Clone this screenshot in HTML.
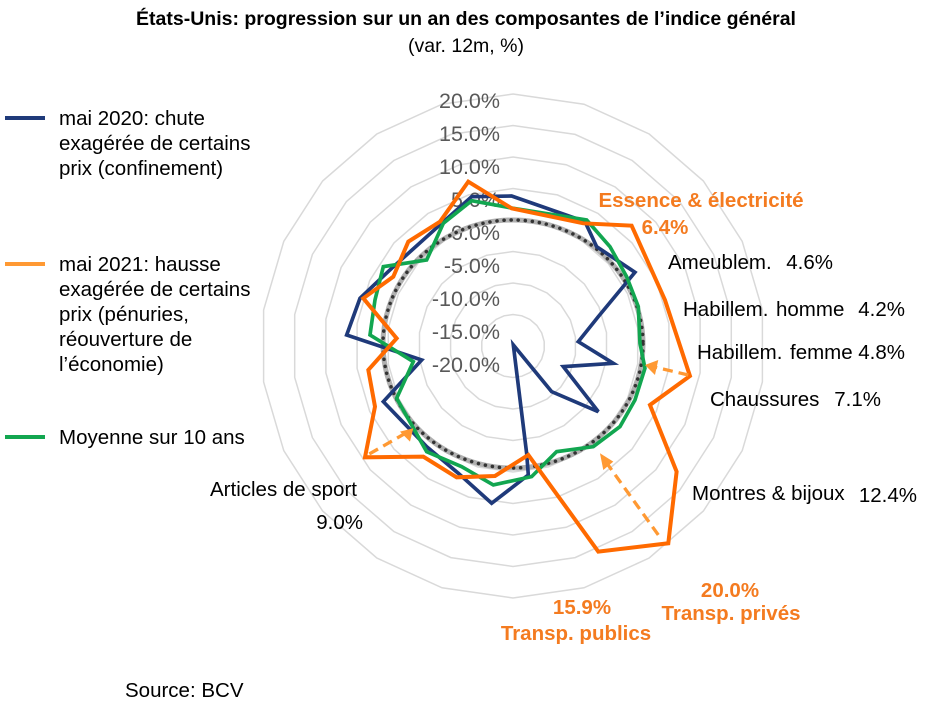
<!DOCTYPE html>
<html><head><meta charset="utf-8"><style>
body{margin:0;background:#fff;width:930px;height:714px;overflow:hidden;font-family:"Liberation Sans",Arial,sans-serif}
svg text{font-family:"Liberation Sans",Arial,sans-serif}
</style></head><body>
<svg width="930" height="714" viewBox="0 0 930 714" xmlns="http://www.w3.org/2000/svg">
<text x="466" y="25" font-size="19.5" font-weight="bold" text-anchor="middle" fill="#000">États-Unis: progression sur un an des composantes de l’indice général</text>
<text x="466" y="52" font-size="19.5" text-anchor="middle" fill="#000">(var. 12m, %)</text>
<g fill="none" stroke="#d9d9d9" stroke-width="1.5">
<polygon points="513,314.5 521.9,315.8 530.0,319.5 536.8,325.4 541.7,332.9 544.2,341.5 544.2,350.5 541.7,359.1 536.8,366.6 530.0,372.5 521.9,376.2 513,377.5 504.1,376.2 496.0,372.5 489.2,366.6 484.3,359.1 481.8,350.5 481.8,341.5 484.3,332.9 489.2,325.4 496.0,319.5 504.1,315.8"/>
<polygon points="513,283 530.7,285.6 547.1,293.0 560.6,304.7 570.3,319.8 575.4,337.0 575.4,355.0 570.3,372.2 560.6,387.3 547.1,399.0 530.7,406.4 513,409 495.3,406.4 478.9,399.0 465.4,387.3 455.7,372.2 450.6,355.0 450.6,337.0 455.7,319.8 465.4,304.7 478.9,293.0 495.3,285.6"/>
<polygon points="513,251.5 539.6,255.3 564.1,266.5 584.4,284.1 598.9,306.7 606.5,332.6 606.5,359.4 598.9,385.3 584.4,407.9 564.1,425.5 539.6,436.7 513,440.5 486.4,436.7 461.9,425.5 441.6,407.9 427.1,385.3 419.5,359.4 419.5,332.6 427.1,306.7 441.6,284.1 461.9,266.5 486.4,255.3"/>
<polygon points="513,220 548.5,225.1 581.1,240.0 608.2,263.5 627.6,293.7 637.7,328.1 637.7,363.9 627.6,398.3 608.2,428.5 581.1,452.0 548.5,466.9 513,472 477.5,466.9 444.9,452.0 417.8,428.5 398.4,398.3 388.3,363.9 388.3,328.1 398.4,293.7 417.8,263.5 444.9,240.0 477.5,225.1"/>
<polygon points="513,188.5 557.4,194.9 598.1,213.5 632.0,242.9 656.3,280.6 668.9,323.6 668.9,368.4 656.3,411.4 632.0,449.1 598.1,478.5 557.4,497.1 513,503.5 468.6,497.1 427.9,478.5 394.0,449.1 369.7,411.4 357.1,368.4 357.1,323.6 369.7,280.6 394.0,242.9 427.9,213.5 468.6,194.9"/>
<polygon points="513,157 566.2,164.7 615.2,187.0 655.8,222.2 684.9,267.5 700.1,319.1 700.1,372.9 684.9,424.5 655.8,469.8 615.2,505.0 566.2,527.3 513,535 459.8,527.3 410.8,505.0 370.2,469.8 341.1,424.5 325.9,372.9 325.9,319.1 341.1,267.5 370.2,222.2 410.8,187.0 459.8,164.7"/>
<polygon points="513,125.5 575.1,134.4 632.2,160.5 679.6,201.6 713.6,254.4 731.3,314.6 731.3,377.4 713.6,437.6 679.6,490.4 632.2,531.5 575.1,557.6 513,566.5 450.9,557.6 393.8,531.5 346.4,490.4 312.4,437.6 294.7,377.4 294.7,314.6 312.4,254.4 346.4,201.6 393.8,160.5 450.9,134.4"/>
<polygon points="513,94 584.0,104.2 649.2,134.0 703.4,181.0 742.2,241.3 762.4,310.1 762.4,381.9 742.2,450.7 703.4,511.0 649.2,558.0 584.0,587.8 513,598 442.0,587.8 376.8,558.0 322.6,511.0 283.8,450.7 263.6,381.9 263.6,310.1 283.8,241.3 322.6,181.0 376.8,134.0 442.0,104.2"/>
</g>
<g font-size="21.5" fill="#595959" text-anchor="end">
<text x="500" y="108">20.0%</text><text x="500" y="141">15.0%</text><text x="500" y="174">10.0%</text><text x="500" y="207">5.0%</text><text x="500" y="240">0.0%</text><text x="500" y="273">-5.0%</text><text x="500" y="306">-10.0%</text><text x="500" y="339">-15.0%</text><text x="500" y="372">-20.0%</text>
</g>
<ellipse cx="513" cy="344" rx="130" ry="124" fill="none" stroke="#b0b0b0" stroke-width="5"/>
<ellipse cx="513" cy="344" rx="130" ry="124" fill="none" stroke="#333" stroke-width="3.5" stroke-dasharray="0.1 7" stroke-linecap="round"/>
<g transform="translate(250,80) scale(0.3333)" fill="none" stroke-linejoin="miter">
<polygon stroke="#1f3a7a" stroke-width="11" points="785,348 1005,425 1040,500 1155,577 1045,710 985,785 1090,850 940,860 1045,995 905,935 790,795 830,1120 835,1185 725,1270 625,1180 530,1100 400,965 515,840 290,765 330,655 425,565 575,430 665,350"/>
<polygon stroke="#12a650" stroke-width="11" points="665,362 790,385 1010,420 1080,500 1130,590 1165,680 1170,790 1185,865 1155,960 1110,1040 1030,1100 920,1115 845,1190 730,1215 635,1160 530,1115 440,955 490,845 360,765 375,660 400,560 530,540 580,430"/>
<polygon stroke="#ff6a00" stroke-width="12" points="655,305 785,385 1000,430 1145,437 1245,660 1320,888 1200,975 1280,1175 1255,1390 1045,1415 835,1125 735,1188 620,1192 520,1130 345,1132 375,980 355,870 440,775 340,655 430,590 475,485 570,425"/>
<g stroke="#ff9933" stroke-width="10" stroke-dasharray="30 18">
<line x1="1315" y1="885" x2="1200" y2="858"/>
<line x1="1225" y1="1365" x2="1060" y2="1135"/>
<line x1="358" y1="1122" x2="475" y2="1055"/>
</g>
<g fill="#ff9933">
<polygon points="1185,855 1225,840 1215,885"/>
<polygon points="1050,1120 1090,1145 1060,1170"/>
<polygon points="490,1045 480,1085 450,1055"/>
</g>
</g>
<g font-size="20.5" fill="#000">
<text x="668" y="269">Ameublem.</text><text x="833" y="269" text-anchor="end">4.6%</text>
<text x="683" y="316">Habillem.</text><text x="776" y="316">homme</text><text x="905" y="316" text-anchor="end">4.2%</text>
<text x="697" y="359">Habillem.</text><text x="790" y="359">femme</text><text x="905" y="359" text-anchor="end">4.8%</text>
<text x="710" y="406">Chaussures</text><text x="881" y="406" text-anchor="end">7.1%</text>
<text x="692" y="500">Montres &amp; bijoux</text><text x="917" y="502" text-anchor="end">12.4%</text>
<text x="210" y="496">Articles de sport</text>
<text x="363" y="529" text-anchor="end">9.0%</text>
<text x="125" y="697">Source: BCV</text>
</g>
<g font-size="20.5" fill="#f47b20" font-weight="bold" text-anchor="middle">
<text x="701" y="207">Essence &amp; électricité</text>
<text x="665" y="234">6.4%</text>
<text x="730" y="597">20.0%</text>
<text x="731" y="620">Transp. privés</text>
<text x="582" y="614">15.9%</text>
<text x="576" y="640">Transp. publics</text>
</g>
<g stroke-width="4">
<line x1="5" y1="118" x2="45" y2="118" stroke="#1f3a7a"/>
<line x1="5" y1="264" x2="45" y2="264" stroke="#ff9933"/>
<line x1="5" y1="437" x2="45" y2="437" stroke="#12a650"/>
</g>
<g font-size="20.5" fill="#000">
<text x="59" y="125">mai 2020: chute</text>
<text x="59" y="150">exagérée de certains</text>
<text x="59" y="175">prix (confinement)</text>
<text x="59" y="271">mai 2021: hausse</text>
<text x="59" y="296">exagérée de certains</text>
<text x="59" y="321">prix (pénuries,</text>
<text x="59" y="346">réouverture de</text>
<text x="59" y="371">l’économie)</text>
<text x="59" y="444">Moyenne sur 10 ans</text>
</g>
</svg>
</body></html>
